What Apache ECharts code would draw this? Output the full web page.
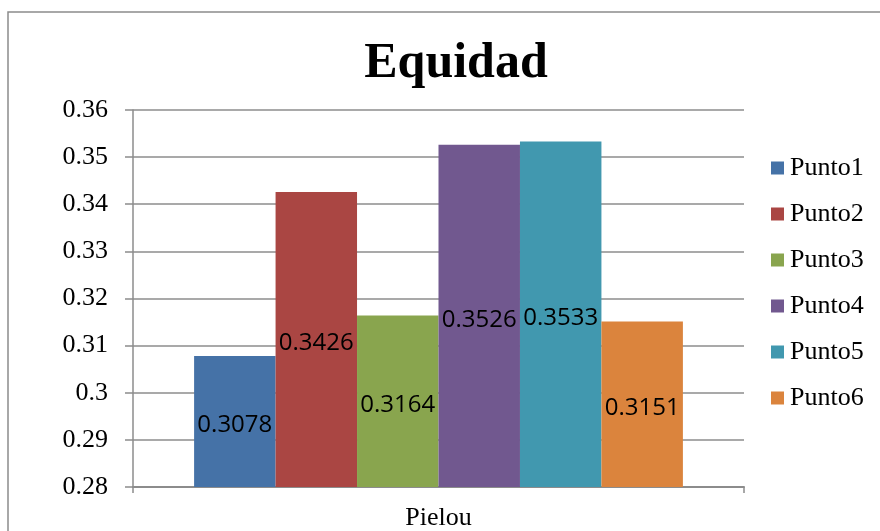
<!DOCTYPE html>
<html>
<head>
<meta charset="utf-8">
<script src="https://cdn.jsdelivr.net/npm/echarts@6/dist/echarts.min.js"></script>
<style>
  html, body { margin: 0; padding: 0; background: #fff; }
  #chart { width: 880px; height: 531px; }
</style>
</head>
<body>
<div id="chart"></div>
<script>
// Pielou evenness per sampling point
const categories = ['Pielou'];
const seriesNames = ['Punto1', 'Punto2', 'Punto3', 'Punto4', 'Punto5', 'Punto6'];
const seriesValues = [0.3078, 0.3426, 0.3164, 0.3526, 0.3533, 0.3151];
const seriesColors = ['#4572A7', '#AA4643', '#89A54E', '#71588F', '#4198AF', '#DB843D'];
const yTicks = { min: 0.28, max: 0.36, interval: 0.01 };

const serif = '"Liberation Serif", "Times New Roman", serif';
const sans = '"Open Sans", "Liberation Sans", sans-serif';

const chart = echarts.init(document.getElementById('chart'));

chart.setOption({
  animation: false,
  backgroundColor: '#fff',
  graphic: [{
    type: 'rect',
    shape: { x: 8, y: 12, width: 900, height: 600 },
    style: { fill: 'none', stroke: '#8c8c8c', lineWidth: 1.5 }
  }],
  title: {
    text: 'Equidad',
    left: 451,
    textAlign: 'center',
    top: 34,
    textStyle: { fontFamily: serif, fontWeight: 'bold', fontSize: 50, color: '#000' }
  },
  legend: {
    orient: 'vertical',
    left: 771,
    top: 155,
    padding: 0,
    itemWidth: 13,
    itemHeight: 13,
    itemGap: 20,
    icon: 'rect',
    textStyle: { fontFamily: serif, fontSize: 26, color: '#000', padding: [0, 0, 0, 1] },
    data: seriesNames
  },
  grid: { left: 133, right: 136, top: 110, bottom: 44 },
  xAxis: {
    type: 'category',
    data: categories,
    axisLine: { lineStyle: { color: '#8c8c8c', width: 2 } },
    axisTick: { show: true, length: 6, lineStyle: { color: '#8c8c8c', width: 1.5 } },
    axisLabel: { fontFamily: serif, fontSize: 26, color: '#000', margin: 18 }
  },
  yAxis: {
    type: 'value',
    min: yTicks.min,
    max: yTicks.max,
    interval: yTicks.interval,
    axisLine: { show: true, lineStyle: { color: '#8c8c8c', width: 1.5 } },
    axisTick: { show: true, length: 8, lineStyle: { color: '#8c8c8c', width: 1.5 } },
    axisLabel: {
      fontFamily: serif, fontSize: 26, color: '#000', margin: 25,
      formatter: v => String(+v.toFixed(2))
    },
    splitLine: { show: true, lineStyle: { color: '#8c8c8c', width: 1.5 } }
  },
  series: seriesNames.map((name, i) => ({
    name: name,
    type: 'bar',
    data: [seriesValues[i]],
    barGap: '0%',
    barCategoryGap: '20%',
    itemStyle: { color: seriesColors[i] },
    label: {
      show: true,
      position: 'inside',
      offset: [0, 4],
      fontFamily: sans,
      fontSize: 24,
      color: '#000',
      formatter: p => p.value.toFixed(4)
    }
  }))
});
</script>
</body>
</html>
